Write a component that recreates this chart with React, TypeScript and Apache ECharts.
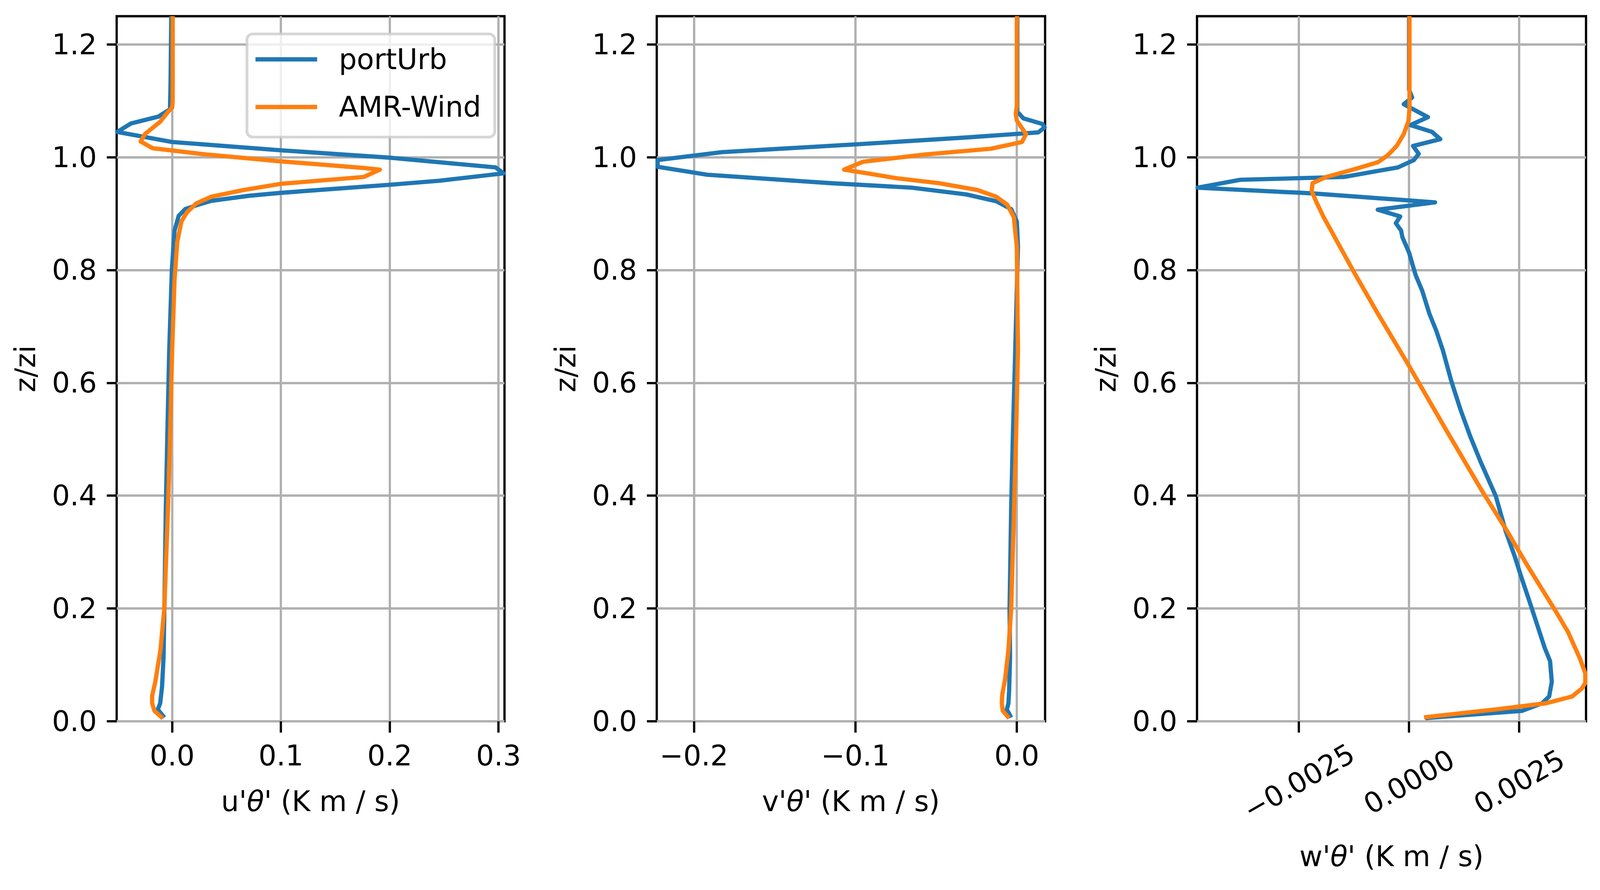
import React, { useEffect, useRef } from 'react';
import * as echarts from 'echarts';

const FONT = 'DejaVu Sans';
const BLUE = '#1f77b4';
const ORANGE = '#ff7f0e';

const SERIES_NAMES = ['portUrb', 'AMR-Wind'];

// tick values
const Z_TICKS = [0, 0.2, 0.4, 0.6, 0.8, 1.0, 1.2];
const U_TICKS = [0, 0.1, 0.2, 0.3];
const V_TICKS = [-0.2, -0.1, 0];
const W_TICKS = [-0.0025, 0, 0.0025];

// axis extents
const Z_RANGE = [0, 1.25];
const U_RANGE = [-0.051, 0.3055];
const V_RANGE = [-0.223, 0.0175];
const W_RANGE = [-0.004812, 0.004017];

const X_NAMES = ["u'{i|θ}' (K m / s)", "v'{i|θ}' (K m / s)", "w'{i|θ}' (K m / s)"];
const Y_NAME = 'z/zi';

// data: [flux value, z/zi]
const U_PORTURB: [number, number][] = [
  [-0.0072, 0.0066], [-0.0132, 0.021], [-0.011, 0.032], [-0.0093, 0.061], [-0.0079, 0.114],
  [-0.0072, 0.193], [-0.0058, 0.379], [-0.0045, 0.5], [-0.0027, 0.657], [-0.0002, 0.803],
  [0.0022, 0.87], [0.006, 0.896], [0.012, 0.908], [0.021, 0.914], [0.0359, 0.9226],
  [0.0708, 0.9317], [0.1, 0.9369], [0.2, 0.9512], [0.2454, 0.9583], [0.3047, 0.9714],
  [0.2973, 0.982], [0.2, 0.9992], [0.1, 1.0123], [0.0, 1.027], [-0.0505, 1.0448],
  [-0.0377, 1.06], [-0.0127, 1.072], [-0.002, 1.085], [-0.0015, 1.128], [-0.0008, 1.25],
];
const U_AMRWIND: [number, number][] = [
  [-0.0086, 0.0053], [-0.0163, 0.0185], [-0.0184, 0.032], [-0.0184, 0.045], [-0.0156, 0.069],
  [-0.0107, 0.127], [-0.0072, 0.2], [-0.0038, 0.379], [-0.002, 0.5], [0.0, 0.657],
  [0.0022, 0.783], [0.0047, 0.85], [0.0085, 0.886], [0.0135, 0.902], [0.022, 0.918],
  [0.036, 0.93], [0.066, 0.942], [0.1007, 0.953], [0.176, 0.965], [0.191, 0.978],
  [0.1756, 0.981], [0.098, 0.993], [0.031, 1.005], [-0.018, 1.016], [-0.029, 1.028],
  [-0.025, 1.041], [-0.011, 1.063], [-0.004, 1.08], [0.0, 1.088], [0.0005, 1.1], [0.0005, 1.25],
];
const V_PORTURB: [number, number][] = [
  [-0.0035, 0.0066], [-0.0062, 0.021], [-0.0052, 0.032], [-0.0048, 0.053], [-0.0042, 0.114],
  [-0.0045, 0.2], [-0.0035, 0.379], [-0.0025, 0.5], [-0.001, 0.657], [0.0007, 0.842],
  [0.0, 0.886], [-0.0035, 0.908], [-0.0128, 0.922], [-0.0313, 0.934], [-0.065, 0.946],
  [-0.1154, 0.954], [-0.1919, 0.969], [-0.2225, 0.983], [-0.2225, 0.995], [-0.1827, 1.009],
  [-0.0986, 1.023], [-0.0313, 1.035], [0.0133, 1.044], [0.0172, 1.053], [0.0158, 1.059],
  [0.004, 1.069], [0.0015, 1.077], [0.0003, 1.08], [0.0003, 1.25],
];
const V_AMRWIND: [number, number][] = [
  [-0.0048, 0.0053], [-0.0087, 0.0185], [-0.0093, 0.032], [-0.009, 0.048], [-0.0073, 0.074],
  [-0.0052, 0.127], [-0.0035, 0.2], [-0.0017, 0.379], [-0.0005, 0.5], [0.0007, 0.657],
  [0.0, 0.842], [-0.0019, 0.894], [-0.006, 0.916], [-0.0128, 0.93], [-0.0246, 0.942],
  [-0.0481, 0.954], [-0.075, 0.963], [-0.0918, 0.971], [-0.107, 0.978], [-0.0952, 0.992],
  [-0.0565, 1.005], [-0.0161, 1.015], [0.0032, 1.027], [0.0057, 1.041], [0.0, 1.065],
  [-0.0007, 1.077], [0.0, 1.09], [0.0, 1.25],
];
const W_PORTURB: [number, number][] = [
  [0.00037, 0.0056], [0.00256, 0.0185], [0.00302, 0.032], [0.00318, 0.044], [0.00324, 0.07],
  [0.0032, 0.107], [0.00308, 0.13], [0.00277, 0.204], [0.00253, 0.26], [0.0024, 0.292],
  [0.00219, 0.338], [0.00197, 0.399], [0.00163, 0.459], [0.00139, 0.505], [0.00117, 0.552],
  [0.00096, 0.603], [0.00077, 0.657], [0.00062, 0.692], [0.00046, 0.723], [0.0003, 0.763],
  [0.00015, 0.791], [0.0, 0.831], [-0.00015, 0.858], [-0.00018, 0.87], [-0.0003, 0.883],
  [-0.0002, 0.895], [-0.00071, 0.907], [0.00059, 0.92], [-0.00222, 0.936], [-0.0048, 0.946],
  [-0.00383, 0.96], [-0.00148, 0.965], [-0.00025, 0.982], [0.00011, 0.995], [0.00022, 1.006],
  [0.00009, 1.02], [0.00071, 1.032], [0.00052, 1.045], [0.00003, 1.057], [0.00043, 1.071],
  [-0.00012, 1.094], [0.00007, 1.106], [0.0, 1.12], [0.0, 1.25],
];
const W_AMRWIND: [number, number][] = [
  [0.00034, 0.007], [0.00197, 0.021], [0.00311, 0.032], [0.0037, 0.044], [0.00392, 0.058],
  [0.004, 0.068], [0.004, 0.085], [0.00388, 0.111], [0.00361, 0.158], [0.00333, 0.195],
  [0.00271, 0.273], [0.00222, 0.338], [0.00166, 0.408], [0.00086, 0.514], [0.0, 0.63],
  [-0.00074, 0.727], [-0.00124, 0.795], [-0.0016, 0.846], [-0.00194, 0.894], [-0.0021, 0.92],
  [-0.00221, 0.94], [-0.00219, 0.954], [-0.00188, 0.965], [-0.00123, 0.979], [-0.00071, 0.991],
  [-0.00049, 1.003], [-0.00028, 1.02], [-0.00012, 1.041], [-0.00001, 1.065], [0.00001, 1.088],
  [0.00001, 1.25],
];

const PANELS = [
  { ticks: U_TICKS, range: U_RANGE, digits: 1, name: X_NAMES[0], data: [U_PORTURB, U_AMRWIND] },
  { ticks: V_TICKS, range: V_RANGE, digits: 1, name: X_NAMES[1], data: [V_PORTURB, V_AMRWIND] },
  { ticks: W_TICKS, range: W_RANGE, digits: 4, name: X_NAMES[2], data: [W_PORTURB, W_AMRWIND] },
];

// layout in reference pixels (4697 x 2279), scaled to the real viewport
const REF_W = 4697;
const REF_H = 2279;
const GRID_LEFT = [342.5, 1928, 3514];
const GRID_WIDTH = [1138.5, 1140, 1142];
const GRID_TOP = 41.5;
const GRID_HEIGHT = 1805.5;

const fmt = (d: number) => (v: number) => v.toFixed(d).replace('-', '\u2212');

function buildOption(sx: number, sy: number) {
  const s = Math.min(sx, sy);
  const FS = 83 * s;
  const LW = 6.67 * s;
  const grid = PANELS.map((_, i) => ({
    left: GRID_LEFT[i] * sx,
    top: GRID_TOP * sy,
    width: GRID_WIDTH[i] * sx,
    height: GRID_HEIGHT * sy,
    show: true,
    borderColor: '#000',
    borderWidth: LW,
    backgroundColor: 'transparent',
    containLabel: false,
  }));
  const xAxis = PANELS.map((p, i) => {
    const rotated = i === 2;
    const label: any = {
      customValues: p.ticks,
      formatter: fmt(p.digits),
      fontFamily: FONT,
      fontSize: FS,
      lineHeight: FS,
      color: '#000',
      margin: 51.5 * sy,
    };
    if (rotated) {
      label.rotate = 30;
      label.align = 'center';
      label.verticalAlign = 'middle';
      label.margin = 155 * sy;
    }
    return {
      type: 'value',
      gridIndex: i,
      min: p.range[0],
      max: p.range[1],
      name: p.name,
      nameLocation: 'middle',
      nameGap: (rotated ? 310 : 168.5) * sy,
      nameTextStyle: {
        fontFamily: FONT,
        fontSize: FS,
        color: '#000',
        lineHeight: FS,
        rich: { i: { fontFamily: FONT, fontSize: FS, fontStyle: 'italic', color: '#000', lineHeight: FS } },
      },
      axisLine: { show: false, onZero: false },
      axisTick: { show: true, length: 29 * sy, customValues: p.ticks, lineStyle: { color: '#000', width: LW } },
      splitLine: { show: true, lineStyle: { color: '#b0b0b0', width: LW } },
      axisLabel: label,
    };
  });
  const yAxis = PANELS.map((_, i) => ({
    type: 'value',
    gridIndex: i,
    min: Z_RANGE[0],
    max: Z_RANGE[1],
    name: Y_NAME,
    nameLocation: 'middle',
    nameGap: 226.5 * sx,
    nameTextStyle: { fontFamily: FONT, fontSize: FS, color: '#000', lineHeight: FS },
    axisLine: { show: false, onZero: false },
    axisTick: { show: true, length: 29 * sx, customValues: Z_TICKS, lineStyle: { color: '#000', width: LW } },
    splitLine: { show: true, lineStyle: { color: '#b0b0b0', width: LW } },
    axisLabel: {
      customValues: Z_TICKS,
      formatter: fmt(1),
      fontFamily: FONT,
      fontSize: FS,
      lineHeight: FS,
      color: '#000',
      margin: 58 * sx,
    },
  }));
  const colors = [BLUE, ORANGE];
  const series: any[] = [];
  PANELS.forEach((p, i) => {
    p.data.forEach((d, k) => {
      series.push({
        type: 'line',
        name: SERIES_NAMES[k],
        xAxisIndex: i,
        yAxisIndex: i,
        data: d,
        showSymbol: false,
        symbol: 'none',
        color: colors[k],
        itemStyle: { color: colors[k] },
        lineStyle: { color: colors[k], width: 12.5 * s, join: 'round', cap: 'butt' },
        clip: true,
        silent: true,
        z: 2 + k,
      });
    });
  });
  return {
    animation: false,
    backgroundColor: '#ffffff',
    textStyle: { fontFamily: FONT },
    grid,
    xAxis,
    yAxis,
    legend: {
      data: SERIES_NAMES,
      orient: 'vertical',
      left: 725 * sx,
      top: 87 * sy,
      icon: 'rect',
      itemWidth: 181 * sx,
      itemHeight: 12.5 * s,
      itemGap: 22 * sy,
      padding: [15 * sy, 40 * sx, 27 * sy, 25 * sx],
      backgroundColor: 'rgba(255,255,255,0.8)',
      borderColor: 'rgba(204,204,204,0.8)',
      borderWidth: 8.3 * s,
      borderRadius: 17 * s,
      selectedMode: false,
      textStyle: {
        fontFamily: FONT,
        fontSize: FS,
        color: '#000',
        lineHeight: 100 * sy,
        padding: [0, 0, 0, 58 * sx],
      },
    },
    series,
  };
}

export default function App() {
  const ref = useRef<HTMLDivElement>(null);
  useEffect(() => {
    const el = ref.current;
    if (!el) return;
    document.body.style.margin = '0';
    document.body.style.overflow = 'hidden';
    const w = window.innerWidth || REF_W;
    const h = window.innerHeight || REF_H;
    el.style.width = w + 'px';
    el.style.height = h + 'px';
    const chart = echarts.init(el, null, { renderer: 'svg', width: w, height: h });
    chart.setOption(buildOption(w / REF_W, h / REF_H) as any);
    return () => chart.dispose();
  }, []);
  return (
    <div
      ref={ref}
      style={{ position: 'absolute', left: 0, top: 0, width: REF_W + 'px', height: REF_H + 'px', background: '#fff' }}
    />
  );
}
